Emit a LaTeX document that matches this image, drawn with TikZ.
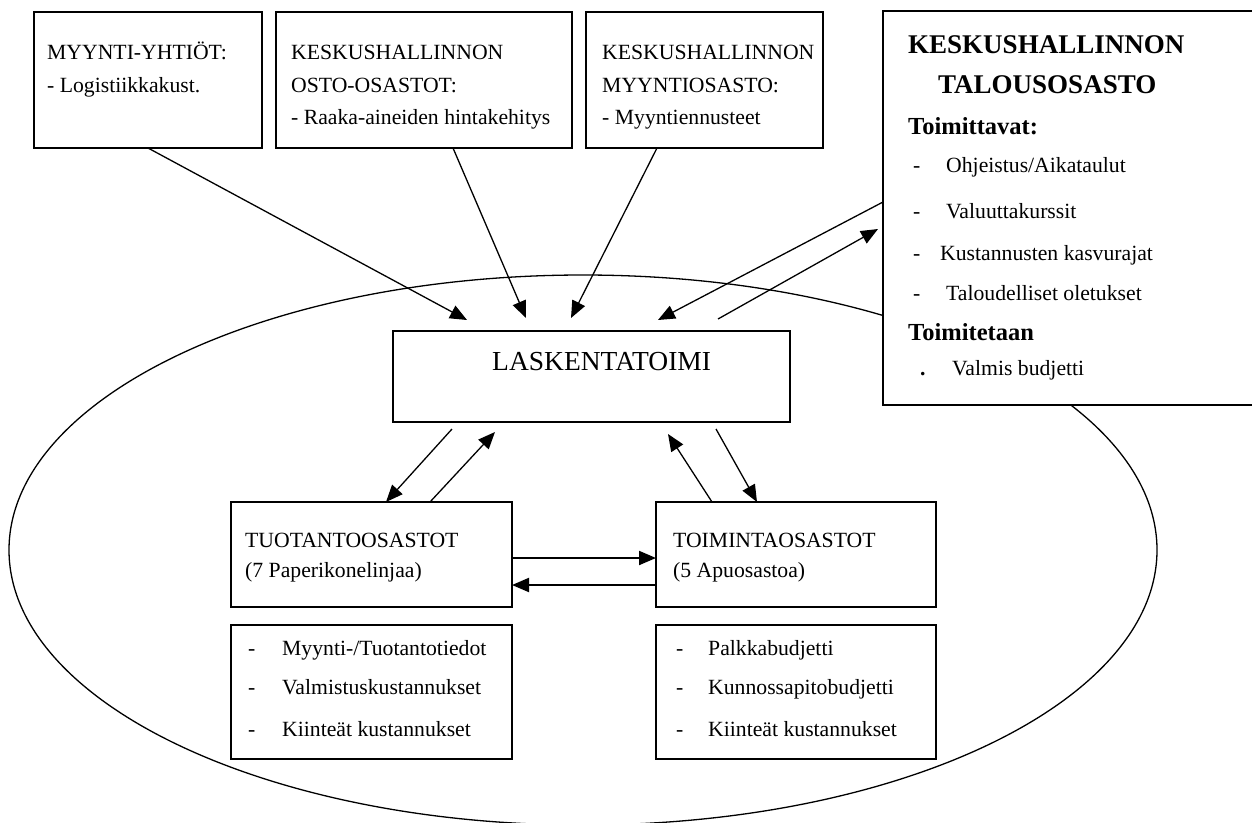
\documentclass[tikz,border=0pt]{standalone}
\usepackage{fontspec}
\setmainfont{Liberation Serif}
\usetikzlibrary{positioning,arrows.meta}

\begin{document}
\begin{tikzpicture}[x=1pt, y=-1pt,
    box/.style={draw, line width=1.5pt, anchor=north west, inner sep=0pt, outer sep=0pt},
    txt/.style={anchor=base west, inner sep=0pt, font=\fontsize{21.7}{26}\selectfont},
    head/.style={anchor=base west, inner sep=0pt, font=\fontsize{27}{31}\selectfont\bfseries},
    subhead/.style={anchor=base west, inner sep=0pt, font=\fontsize{24.5}{29}\selectfont\bfseries},
    arr/.style={-{Triangle[length=17pt, width=14pt]}, line width=1.3pt},
    harr/.style={arr, line width=2pt}]
    \useasboundingbox (0,0) rectangle (1252,822);
    \clip (0,0) rectangle (1252,822);

    % =========================================================
    % ORGANISATION BOUNDARY
    % =========================================================
    \draw[line width=1.3pt] (583,550) ellipse [x radius=574pt, y radius=275pt];

    % =========================================================
    % TOP ROW: SOURCES OF INPUT
    % =========================================================
    \node[box, minimum width=228pt, minimum height=136pt] (myynti) at (34,12) {};
    \node[txt] (myynti1) at (47,59) {MYYNTI-YHTIÖT:};
    \node[txt] (myynti2) at (47,92) {- Logistiikkakust.};

    \node[box, minimum width=296pt, minimum height=136pt] (osto) at (276,12) {};
    \node[txt] (osto1) at (291,59) {KESKUSHALLINNON};
    \node[txt] (osto2) at (291,92) {OSTO-OSASTOT:};
    \node[txt] (osto3) at (291,124) {- Raaka-aineiden hintakehitys};

    \node[box, minimum width=237pt, minimum height=136pt] (myyntios) at (586,12) {};
    \node[txt] (myyntios1) at (602,59) {KESKUSHALLINNON};
    \node[txt] (myyntios2) at (602,92) {MYYNTIOSASTO:};
    \node[txt] (myyntios3) at (602,124) {- Myyntiennusteet};

    % Finance department (covers the ellipse)
    \node[box, fill=white, minimum width=379pt, minimum height=394pt] (talous) at (883,11) {};
    \node[head] (talous1) at (908,53) {KESKUSHALLINNON};
    \node[head] (talous2) at (938,93) {TALOUSOSASTO};
    \node[subhead] (toimittavat) at (908,134) {Toimittavat:};
    \node[txt] (tal1d) at (913,172) {-};
    \node[txt] (tal1) at (946,172) {Ohjeistus/Aikataulut};
    \node[txt] (tal2d) at (913,218) {-};
    \node[txt] (tal2) at (946,218) {Valuuttakurssit};
    \node[txt] (tal3d) at (913,260) {-};
    \node[txt] (tal3) at (940,260) {Kustannusten kasvurajat};
    \node[txt] (tal4d) at (913,300) {-};
    \node[txt] (tal4) at (946,300) {Taloudelliset oletukset};
    \node[subhead] (toimitetaan) at (908,340) {Toimitetaan};
    \node[txt, font=\fontsize{21.7}{26}\selectfont\bfseries] (tal5d) at (920,375) {.};
    \node[txt] (tal5) at (952,375) {Valmis budjetti};

    % =========================================================
    % CENTRE: ACCOUNTING
    % =========================================================
    \node[box, minimum width=397pt, minimum height=91pt] (laskenta) at (393,331) {};
    \node[txt, font=\fontsize{27.5}{31}\selectfont] (laskenta1) at (492,370) {LASKENTATOIMI};

    % =========================================================
    % BOTTOM: DEPARTMENTS AND THEIR DATA
    % =========================================================
    \node[box, minimum width=281pt, minimum height=105pt] (tuotanto) at (231,502) {};
    \node[txt] (tuotanto1) at (245,547) {TUOTANTOOSASTOT};
    \node[txt] (tuotanto2) at (245,577) {(7 Paperikonelinjaa)};

    \node[box, minimum width=280pt, minimum height=105pt] (toiminta) at (656,502) {};
    \node[txt] (toiminta1) at (673,547) {TOIMINTAOSASTOT};
    \node[txt] (toiminta2) at (673,577) {(5 Apuosastoa)};

    \node[box, minimum width=281pt, minimum height=134pt] (tuotlista) at (231,625) {};
    \node[txt] (tl1d) at (248,655) {-};
    \node[txt] (tl1) at (282,655) {Myynti-/Tuotantotiedot};
    \node[txt] (tl2d) at (248,694) {-};
    \node[txt] (tl2) at (282,694) {Valmistuskustannukset};
    \node[txt] (tl3d) at (248,736) {-};
    \node[txt] (tl3) at (282,736) {Kiinteät kustannukset};

    \node[box, minimum width=280pt, minimum height=134pt] (toimlista) at (656,625) {};
    \node[txt] (ml1d) at (676,655) {-};
    \node[txt] (ml1) at (708,655) {Palkkabudjetti};
    \node[txt] (ml2d) at (676,694) {-};
    \node[txt] (ml2) at (708,694) {Kunnossapitobudjetti};
    \node[txt] (ml3d) at (676,736) {-};
    \node[txt] (ml3) at (708,736) {Kiinteät kustannukset};

    % =========================================================
    % FLOWS
    % =========================================================
    % Into accounting from above
    \draw[arr] (myynti.south) -- ([xshift=-124.5pt, yshift=11pt]laskenta.north);
    \draw[arr] ([xshift=29pt]osto.south) -- ([xshift=-65.5pt, yshift=13pt]laskenta.north);
    \draw[arr] ([xshift=-47.5pt]myyntios.south) -- ([xshift=-20.5pt, yshift=13pt]laskenta.north);
    \draw[arr] ([yshift=6pt]talous.west) -- ([xshift=66.5pt, yshift=11pt]laskenta.north);
    \draw[arr] ([xshift=126.5pt, yshift=12pt]laskenta.north) -- ([xshift=-5pt, yshift=-21pt]talous.west);

    % Accounting <-> departments
    \draw[arr] ([xshift=-139.5pt, yshift=-7pt]laskenta.south) -- ([xshift=14.5pt]tuotanto.north);
    \draw[arr] ([xshift=58.5pt]tuotanto.north) -- ([xshift=-96.5pt, yshift=-10pt]laskenta.south);
    \draw[arr] ([xshift=-84pt]toiminta.north) -- ([xshift=76.5pt, yshift=-12pt]laskenta.south);
    \draw[arr] ([xshift=124.5pt, yshift=-7pt]laskenta.south) -- ([xshift=-39pt]toiminta.north);

    % Between departments
    \draw[harr] ([yshift=-3.5pt]tuotanto.east) -- ([yshift=-3.5pt]toiminta.west);
    \draw[harr] ([yshift=-30.5pt]toiminta.west) -- ([yshift=-30.5pt]tuotanto.east);
\end{tikzpicture}
\end{document}
